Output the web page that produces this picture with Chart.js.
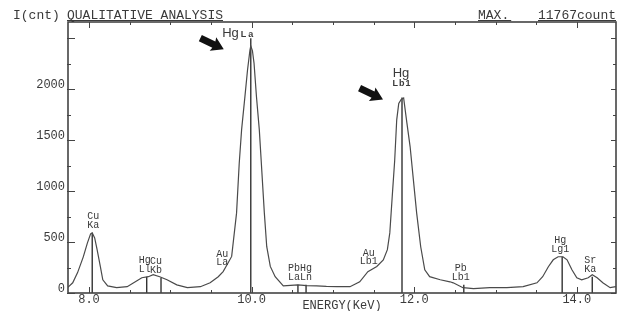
<!DOCTYPE html>
<html><head><meta charset="utf-8">
<script src="https://cdn.jsdelivr.net/npm/chart.js@4"></script>
<style>html,body{margin:0;padding:0;background:#fff}#wrap{position:relative;width:619px;height:311px}</style>
</head><body><div id="wrap"><canvas id="c" width="619" height="311"></canvas></div>
<script>
// ---- data ----
const energies = [7.74,7.80,7.86,7.93,7.98,8.02,8.04,8.07,8.10,8.14,8.17,8.23,8.34,8.47,8.57,8.65,8.73,8.79,8.87,8.96,9.08,9.21,9.37,9.49,9.59,9.65,9.71,9.755,9.815,9.848,9.877,9.918,9.95,9.98,9.99,10.01,10.03,10.06,10.095,10.12,10.157,10.186,10.23,10.29,10.39,10.48,10.57,10.68,10.80,10.92,11.05,11.21,11.33,11.43,11.54,11.62,11.67,11.70,11.73,11.76,11.785,11.81,11.84,11.87,11.91,11.95,11.99,12.03,12.08,12.13,12.19,12.32,12.44,12.48,12.60,12.73,12.93,13.14,13.34,13.51,13.58,13.65,13.71,13.77,13.83,13.88,13.94,14.00,14.06,14.14,14.19,14.25,14.32,14.41,14.48];
const counts = [55,100,200,355,490,580,591,540,425,260,130,70,52,62,110,150,160,180,160,130,80,52,62,100,160,210,294,359,784,1274,1601,1927,2189,2385,2424,2380,2257,1927,1601,1274,784,457,261,160,70,75,80,72,70,65,62,62,110,210,260,325,425,590,950,1300,1700,1860,1900,1914,1670,1435,1110,786,454,228,160,130,110,100,52,42,52,52,62,100,160,258,326,356,356,326,228,150,130,150,180,150,100,52,62];

const peakElements = ['Cu','Hg','Cu','Hg','Pb','Hg','Hg','Pb','Hg','Sr'];
const peakLines    = ['Ka','Ll','Kb','La','La','Ln','Lb1','Lb1','Lg1','Ka'];
const peakEnergies = [8.04,8.71,8.886,9.99,10.57,10.67,11.85,12.61,13.82,14.19];
const peakTops     = [591,160,150,2500,80,80,1920,80,356,160];

const noteElements = ['Au','Au'];
const noteLines    = ['La','Lb1'];
const noteEnergies = [9.64,11.44];
const noteCounts   = [205,215];

const yTicks = [0,500,1000,1500,2000];
const xTicks = [8,10,12,14];
const xTickLabels = ['8.0','10.0','12.0','14.0'];

const headerLeft = 'I(cnt)';
const headerTitle = 'QUALITATIVE ANALYSIS';
const headerMax = 'MAX.';
const headerCount = '11767count';
const xTitle = 'ENERGY(KeV)';

// ---- styles ----
const MONO = '"Liberation Mono", "DejaVu Sans Mono", monospace';
const SANS = '"Liberation Sans", Arial, sans-serif';
const INK = '#3a3a3a';
const bigPeaks = [3, 6];                 // indices drawn with large labels + arrows
const labelShift = [1,-2,-5,0,-4,0,0,-3,-2,-2];

const spectrum = energies.map((e,i)=>({x:e,y:counts[i]}));
const datasets = [{
  data: spectrum, borderColor:'#4a4a4a', borderWidth:1.2, pointRadius:0, tension:0, fill:false
}];
peakEnergies.forEach((e,i)=>{
  datasets.push({data:[{x:e,y:0},{x:e,y:peakTops[i]}], borderColor:'#333', borderWidth:1.4, pointRadius:0, tension:0, fill:false});
});

function line(ctx,x1,y1,x2,y2){ctx.beginPath();ctx.moveTo(x1,y1);ctx.lineTo(x2,y2);ctx.stroke();}

function arrow(ctx, tipX, tipY){
  const ang = Math.atan2(12,25);
  ctx.save();
  ctx.translate(tipX, tipY);
  ctx.rotate(ang);
  ctx.fillStyle = '#111';
  ctx.beginPath();
  ctx.moveTo(0,0);
  ctx.lineTo(-12,-7.5);
  ctx.lineTo(-11,-3.5);
  ctx.lineTo(-26,-3.5);
  ctx.lineTo(-26,3.5);
  ctx.lineTo(-11,3.5);
  ctx.lineTo(-12,7.5);
  ctx.closePath();
  ctx.fill();
  ctx.restore();
}

const decor = {
  id:'decor',
  afterDraw(chart){
    const {ctx, chartArea:a, scales:{x,y}} = chart;
    ctx.save();
    // frame
    ctx.strokeStyle = '#444'; ctx.lineWidth = 1.6;
    ctx.strokeRect(a.left, a.top, a.right-a.left, a.bottom-a.top);
    // inward tick marks
    ctx.lineWidth = 1; ctx.strokeStyle = '#444';
    for (let v = 8; v <= 14.001; v += 0.5){
      const px = Math.round(x.getPixelForValue(v)) + 0.5;
      const major = Math.abs(v/2 - Math.round(v/2)) < 1e-6;
      const L = major ? 6 : 3;
      line(ctx, px, a.bottom, px, a.bottom - L);
      line(ctx, px, a.top, px, a.top + L);
    }
    for (let v = 0; v <= 2500; v += 250){
      const py = Math.round(y.getPixelForValue(v)) + 0.5;
      const major = v % 500 === 0;
      line(ctx, a.left - 1, py, a.left + (major ? 7 : 3), py);
      line(ctx, a.right, py, a.right - (major ? 5 : 3), py);
    }
    // header
    ctx.fillStyle = INK; ctx.textBaseline = 'alphabetic'; ctx.textAlign = 'left';
    ctx.font = '13px ' + MONO;
    ctx.fillText(headerLeft, 13, 19);
    ctx.fillText(headerTitle, 67, 19);
    const wT = ctx.measureText(headerTitle).width;
    ctx.fillText(headerMax, 478, 19);
    const wM = ctx.measureText(headerMax).width;
    ctx.textAlign = 'right';
    ctx.fillText(headerCount, 616, 19);
    const wC = ctx.measureText(headerCount).width;
    ctx.lineWidth = 1; ctx.strokeStyle = INK;
    line(ctx, 67, 20.5, 67 + wT, 20.5);
    line(ctx, 478, 20.5, 478 + wM + 2, 20.5);
    line(ctx, 616 - wC, 20.5, 616, 20.5);
    // axis title
    ctx.textAlign = 'center'; ctx.textBaseline = 'middle';
    ctx.font = '12px ' + MONO;
    ctx.fillText(xTitle, (a.left + a.right)/2, 306);
    // small peak labels
    ctx.font = '10px ' + MONO;
    peakEnergies.forEach((e,i)=>{
      if (bigPeaks.includes(i)) return;
      const px = x.getPixelForValue(e) + labelShift[i];
      const py = y.getPixelForValue(peakTops[i]);
      ctx.fillText(peakElements[i], px, py - 16);
      ctx.fillText(peakLines[i], px, py - 7.5);
    });
    noteEnergies.forEach((e,i)=>{
      const px = x.getPixelForValue(e);
      const py = y.getPixelForValue(noteCounts[i]);
      ctx.fillText(noteElements[i], px, py - 18);
      ctx.fillText(noteLines[i], px, py - 10);
    });
    // big labels
    {
      const i = bigPeaks[0];
      const px = x.getPixelForValue(peakEnergies[i]);
      const py = y.getPixelForValue(peakTops[i]);
      ctx.textBaseline = 'alphabetic';
      ctx.textAlign = 'right';
      ctx.font = '13px ' + SANS;
      ctx.fillText(peakElements[i], px - 12, py - 1);
      ctx.textAlign = 'left';
      ctx.font = 'bold 9px ' + SANS;
      ctx.letterSpacing = '2px';
      ctx.fillText(peakLines[i], px - 10, py - 1);
      ctx.letterSpacing = '0px';
      arrow(ctx, px - 27, py + 11);
    }
    {
      const i = bigPeaks[1];
      const px = x.getPixelForValue(peakEnergies[i]);
      const py = y.getPixelForValue(peakTops[i]);
      ctx.textAlign = 'center'; ctx.textBaseline = 'alphabetic';
      ctx.font = '13px ' + SANS;
      ctx.fillText(peakElements[i], px - 1, py - 20);
      ctx.font = 'bold 9px ' + SANS;
      ctx.letterSpacing = '1px';
      ctx.fillText(peakLines[i], px, py - 11);
      ctx.letterSpacing = '0px';
      arrow(ctx, px - 19, py + 2);
    }
    ctx.restore();
  }
};

new Chart(document.getElementById('c'), {
  type:'line',
  data:{datasets},
  options:{
    responsive:false, animation:false, devicePixelRatio:1,
    layout:{padding:{top:22, right:3, left:0, bottom:0}},
    plugins:{legend:{display:false}, tooltip:{enabled:false}},
    scales:{
      x:{
        type:'linear', min:7.742, max:14.482,
        grid:{display:false, drawTicks:false}, border:{display:false},
        afterBuildTicks:s=>{s.ticks = xTicks.map(v=>({value:v}));},
        afterFit:s=>{s.height = 18;},
        ticks:{
          callback:(v,i)=>xTickLabels[i], maxRotation:0, autoSkip:false,
          font:{family:'Liberation Mono', size:12}, color:INK, padding:0
        }
      },
      y:{
        type:'linear', min:0, max:2660,
        grid:{display:false, drawTicks:false}, border:{display:false},
        afterBuildTicks:s=>{s.ticks = yTicks.map(v=>({value:v}));},
        afterFit:s=>{s.width = 68;},
        ticks:{
          callback:v=>String(v), autoSkip:false,
          font:{family:'Liberation Mono', size:12}, color:INK, padding:3, labelOffset:-4
        }
      }
    }
  },
  plugins:[decor]
});
</script>
</body></html>
